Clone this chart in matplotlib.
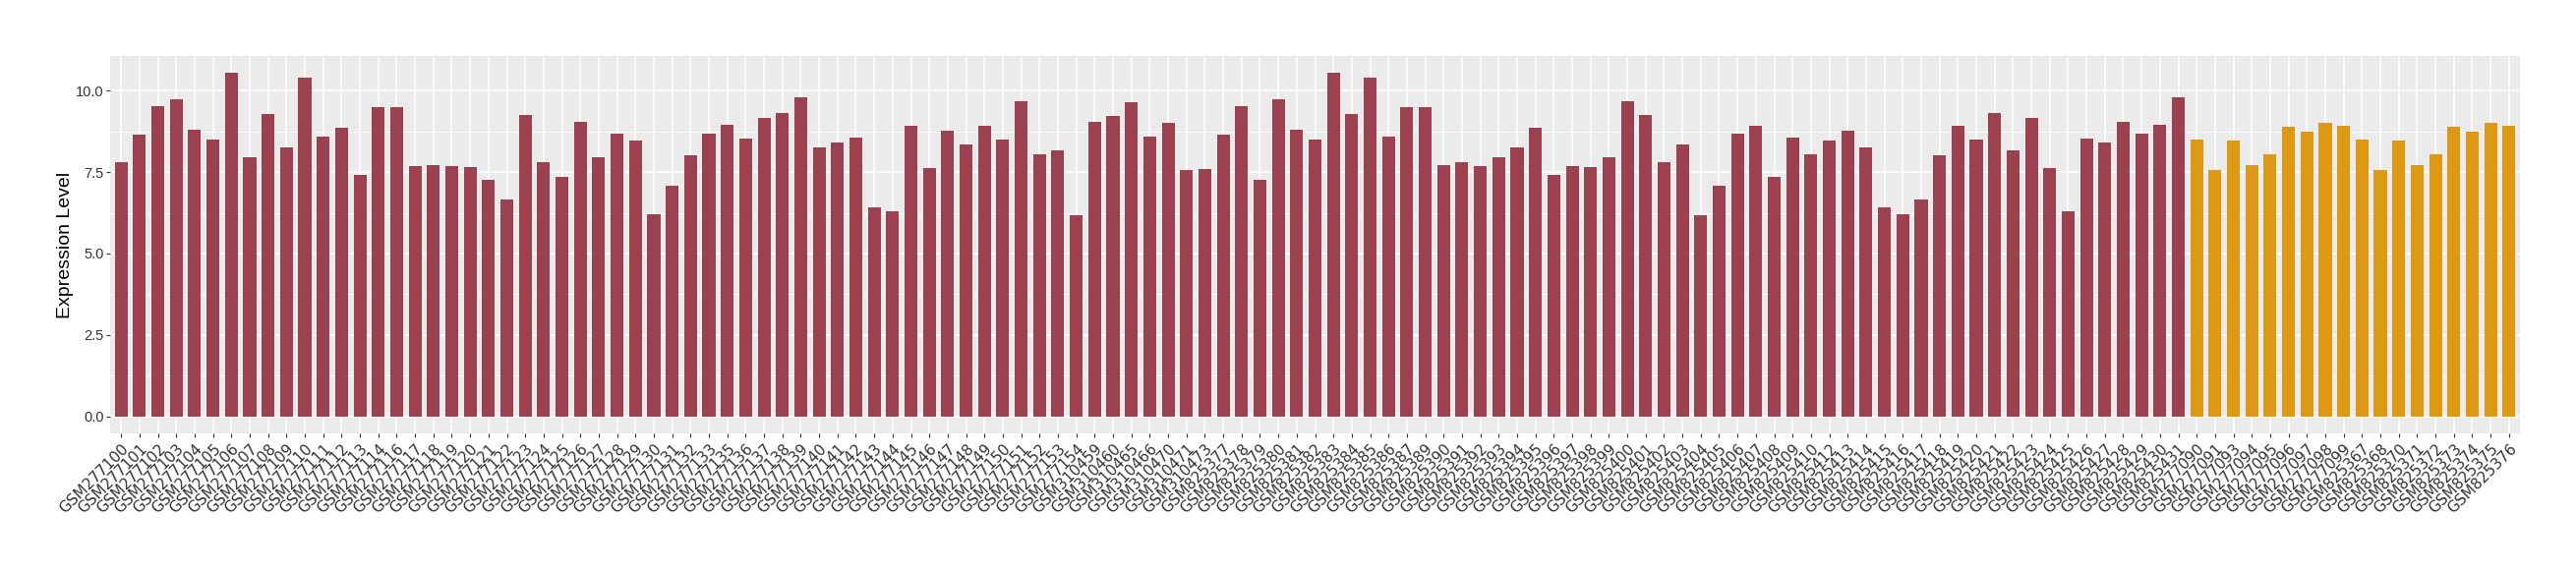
import matplotlib
matplotlib.use("Agg")
import matplotlib.pyplot as plt
import matplotlib.transforms as mtransforms
import numpy as np

# sample ids, group 1 (maroon)
tumor_ids = [
    "GSM277100", "GSM277101", "GSM277102", "GSM277103", "GSM277104", "GSM277105",
    "GSM277106", "GSM277107", "GSM277108", "GSM277109", "GSM277110", "GSM277111",
    "GSM277112", "GSM277113", "GSM277114", "GSM277116", "GSM277117", "GSM277118",
    "GSM277119", "GSM277120", "GSM277121", "GSM277122", "GSM277123", "GSM277124",
    "GSM277125", "GSM277126", "GSM277127", "GSM277128", "GSM277129", "GSM277130",
    "GSM277131", "GSM277132", "GSM277133", "GSM277135", "GSM277136", "GSM277137",
    "GSM277138", "GSM277139", "GSM277140", "GSM277141", "GSM277142", "GSM277143",
    "GSM277144", "GSM277145", "GSM277146", "GSM277147", "GSM277148", "GSM277149",
    "GSM277150", "GSM277151", "GSM277152", "GSM277153", "GSM277154", "GSM310459",
    "GSM310460", "GSM310465", "GSM310466", "GSM310470", "GSM310471", "GSM310473",
    "GSM825377", "GSM825378", "GSM825379", "GSM825380", "GSM825381", "GSM825382",
    "GSM825383", "GSM825384", "GSM825385", "GSM825386", "GSM825387", "GSM825389",
    "GSM825390", "GSM825391", "GSM825392", "GSM825393", "GSM825394", "GSM825395",
    "GSM825396", "GSM825397", "GSM825398", "GSM825399", "GSM825400", "GSM825401",
    "GSM825402", "GSM825403", "GSM825404", "GSM825405", "GSM825406", "GSM825407",
    "GSM825408", "GSM825409", "GSM825410", "GSM825412", "GSM825413", "GSM825414",
    "GSM825415", "GSM825416", "GSM825417", "GSM825418", "GSM825419", "GSM825420",
    "GSM825421", "GSM825422", "GSM825423", "GSM825424", "GSM825425", "GSM825426",
    "GSM825427", "GSM825428", "GSM825429", "GSM825430", "GSM825431",
]
tumor_vals = [
    7.82, 8.64, 9.52, 9.73, 8.79, 8.49, 10.54, 7.95, 9.30, 8.25, 10.40, 8.60,
    8.85, 7.40, 9.49, 9.49, 7.70, 7.73, 7.70, 7.65, 7.25, 6.65, 9.27, 7.82,
    7.36, 9.03, 7.95, 8.67, 8.46, 6.22, 7.09, 8.03, 8.67, 8.94, 8.52, 9.16,
    9.33, 9.79, 8.27, 8.40, 8.55, 6.43, 6.31, 8.91, 7.61, 8.76, 8.36, 8.91,
    8.49, 9.67, 8.06, 8.16, 6.19, 9.03, 9.22, 9.64, 8.60, 9.00, 7.55, 7.58,
    8.64, 9.52, 7.25, 9.73, 8.79, 8.49, 10.54, 9.30, 10.40, 8.60, 9.49, 9.49,
    7.73, 7.82, 7.70, 7.95, 8.25, 8.85, 7.40, 7.70, 7.65, 7.95, 9.67, 9.27,
    7.82, 8.36, 6.19, 7.09, 8.67, 8.91, 7.36, 8.55, 8.06, 8.46, 8.76, 8.27,
    6.43, 6.22, 6.65, 8.03, 8.91, 8.49, 9.33, 8.16, 9.16, 7.61, 6.31, 8.52,
    8.40, 9.03, 8.67, 8.94, 9.79,
]

# sample ids, group 2 (orange)
normal_ids = [
    "GSM277090", "GSM277091", "GSM277093", "GSM277094", "GSM277095", "GSM277096",
    "GSM277097", "GSM277098", "GSM277099", "GSM825367", "GSM825368", "GSM825370",
    "GSM825371", "GSM825372", "GSM825373", "GSM825374", "GSM825375", "GSM825376",
]
normal_vals = [
    8.49, 7.55, 8.46, 7.73, 8.06, 8.89, 8.73, 9.00, 8.91,
    8.49, 7.55, 8.46, 7.73, 8.06, 8.89, 8.73, 9.00, 8.91,
]

c_tumor = "#9B4150"
c_normal = "#DD9914"

labels = tumor_ids + normal_ids
vals = tumor_vals + normal_vals
colors = [c_tumor] * len(tumor_vals) + [c_normal] * len(normal_vals)
n = len(labels)
x = np.arange(n)

fig = plt.figure(figsize=(26.2, 5.8), dpi=100)
# panel placed in pixels: left 112, right 2563, top 57, bottom 441
ax = fig.add_axes([112 / 2620, 1 - 441 / 580, (2563 - 112) / 2620, (441 - 57) / 580])
ax.set_facecolor("#EBEBEB")

ymax = max(vals)
pad = 0.05 * ymax
ax.set_ylim(-pad, ymax + pad)
ax.set_xlim(-0.6, n - 1 + 0.6)

ax.set_yticks([0, 2.5, 5, 7.5, 10])
ax.set_yticks([1.25, 3.75, 6.25, 8.75], minor=True)
ax.set_yticklabels(["0.0", "2.5", "5.0", "7.5", "10.0"], fontsize=10.5,
                   color="#333333", family="Liberation Sans")
ax.grid(True, which="major", color="white", linewidth=1.1)
ax.grid(True, which="minor", axis="y", color="white", linewidth=0.55)
ax.set_axisbelow(True)

ax.bar(x, vals, width=0.7, color=colors, zorder=2)

ax.set_xticks(x)
ax.set_xticklabels(labels, rotation=45, ha="right", va="top",
                   rotation_mode="anchor", fontsize=11, color="#333333")
shift = mtransforms.ScaledTranslation(5 / 100, 0, fig.dpi_scale_trans)
for lab in ax.get_xticklabels():
    lab.set_transform(lab.get_transform() + shift)
ax.tick_params(axis="both", which="major", length=2.75, color="#333333", width=0.8)
ax.tick_params(axis="y", which="major", pad=2)
ax.tick_params(axis="x", which="major", pad=3)
ax.tick_params(axis="y", which="minor", length=0)

for s in ax.spines.values():
    s.set_visible(False)

ax.set_ylabel("Expression Level", fontsize=14, family="Liberation Sans")
ax.yaxis.set_label_coords((75 - 112) / 2451, 0.5)

fig.savefig("out.png", dpi=100)
